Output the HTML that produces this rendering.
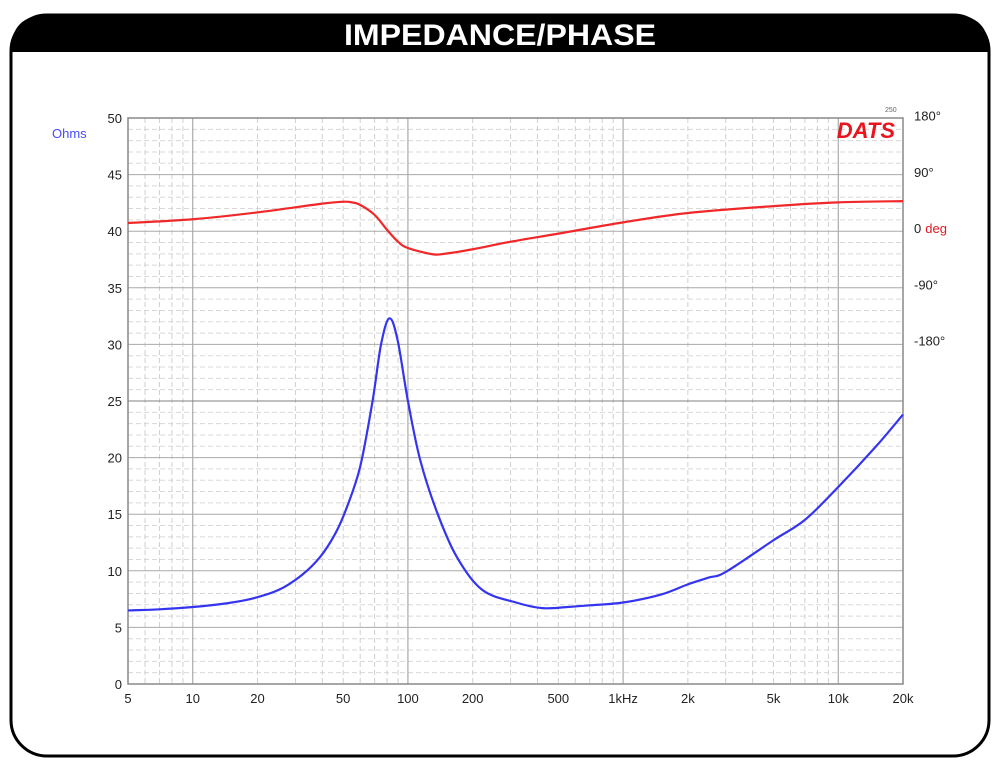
<!DOCTYPE html>
<html><head><meta charset="utf-8"><style>
body{margin:0;background:#fff;width:1000px;height:770px;overflow:hidden;font-family:"Liberation Sans",sans-serif}
</style></head><body>
<svg width="1000" height="770" viewBox="0 0 1000 770">
<rect x="11" y="15" width="978" height="741" rx="36" fill="#fff" stroke="#000" stroke-width="3"/>
<path d="M11,52 L11,51 Q11,15 47,15 L953,15 Q989,15 989,51 L989,52 Z" fill="#000"/>
<text x="500" y="45" text-anchor="middle" fill="#fff" font-size="30" font-weight="bold" textLength="312" lengthAdjust="spacingAndGlyphs">IMPEDANCE/PHASE</text>
<g id="grid"></g>
<g id="axes"></g>
<text x="52" y="138" fill="#4a4aff" font-size="13">Ohms</text>
<text x="895" y="138" text-anchor="end" fill="#e8141e" font-size="22" font-weight="bold" font-style="italic">DATS</text>
<text x="885" y="112" fill="#666" font-size="7">250</text>
<path id="phase" fill="none" stroke="#f0282a" stroke-width="2.2"/>
<path id="imp" fill="none" stroke="#3535f0" stroke-width="2.2"/>
</svg>
<script>
const freqTicks=[5,10,20,50,100,200,500,1000,2000,5000,10000,20000];
const freqLabels=["5","10","20","50","100","200","500","1kHz","2k","5k","10k","20k"];
const ohmTicks=[0,5,10,15,20,25,30,35,40,45,50];
const phaseTicks=[180,90,0,-90,-180];
const phaseLabels=["180°","90°","0","-90°","-180°"];
const impFreq=[5,7,10,14,18.5,25,32,39,46,52,60,68.5,75,82,89.5,100,114,137,169,222,318,421,550,700,1000,1500,2000,2500,3000,5000,7000,10000,15000,20000];
const impOhm=[6.5,6.6,6.8,7.1,7.5,8.3,9.6,11.2,13.3,15.6,19.2,25,30,32.3,30.4,25,19.8,15.1,11.2,8.3,7.2,6.7,6.8,6.95,7.2,7.9,8.8,9.4,9.9,12.7,14.5,17.4,21,23.8];
const phFreq=[5,10,20,40,50,55,60,70,80,90,100,130,150,200,300,500,1000,2000,5000,10000,20000];
const phDeg=[8,14,25,39,42,41,37,21,-3,-22,-32,-42,-41,-34,-22,-9,9,24,35,41,43];
const X0=128,X1=903,Y0=684,Y1=118,FMIN=5,FMAX=20000;
const x=f=>X0+(Math.log10(f/FMIN))/Math.log10(FMAX/FMIN)*(X1-X0);
const y=o=>Y0-(o/50)*(Y0-Y1);
const yp=d=>228-d*0.625;
const NS="http://www.w3.org/2000/svg";
function mk(t,a,p){const e=document.createElementNS(NS,t);for(const k in a)e.setAttribute(k,a[k]);p.appendChild(e);return e;}
const g=document.getElementById('grid'),ax=document.getElementById('axes');
for(let o=1;o<50;o++){if(o%5==0)continue;
 const l=mk('line',{x1:X0,x2:X1,y1:y(o),y2:y(o),stroke:'#d8d8d8','stroke-width':1,'stroke-dasharray':'5,3'},g);
 
 }
for(let d=1;d<=10000;d*=10){for(let m=1;m<10;m++){const f=d*m;if(f<=FMIN||f>=FMAX)continue;
 const major=(m==1);
 const l=mk('line',{x1:x(f),x2:x(f),y1:Y1,y2:Y0,stroke:major?'#9a9a9a':'#d0d0d0','stroke-width':1,'stroke-dasharray':major?'':'5,3'},g);
 
 }}
ohmTicks.forEach(o=>{
 const l=mk('line',{x1:X0,x2:X1,y1:y(o),y2:y(o),stroke:o==25?'#808080':'#aaaaaa','stroke-width':1},g);
 
 
 const t=mk('text',{x:122,y:y(o)+5,'text-anchor':'end','font-size':13,fill:'#222'},ax);t.textContent=o;
 
 });
freqTicks.forEach((f,i)=>{
 const t=mk('text',{x:x(f),y:Y0+19,'text-anchor':'middle','font-size':13,fill:'#222'},ax);t.textContent=freqLabels[i];
 
 });
phaseTicks.forEach((d,i)=>{
 const t=mk('text',{x:914,y:yp(d)+5,'font-size':13,fill:'#222'},ax);t.textContent=phaseLabels[i];
 
 
 if(d===0){const u=mk('tspan',{fill:'#e8141e',dx:4},t);u.textContent='deg';}});
const fr=mk('rect',{x:X0,y:Y1,width:X1-X0,height:Y0-Y1,fill:'none',stroke:'#888','stroke-width':1.5},ax);


function smooth(fs,vs,fy){let pts=fs.map((f,i)=>[x(f),fy(vs[i])]);let d='M'+pts[0][0]+','+pts[0][1];
 for(let i=0;i<pts.length-1;i++){const p0=pts[i-1]||pts[i],p1=pts[i],p2=pts[i+1],p3=pts[i+2]||p2;
  const c1=[p1[0]+(p2[0]-p0[0])/6,p1[1]+(p2[1]-p0[1])/6],c2=[p2[0]-(p3[0]-p1[0])/6,p2[1]-(p3[1]-p1[1])/6];
  d+=` C${c1[0]},${c1[1]} ${c2[0]},${c2[1]} ${p2[0]},${p2[1]}`;}return d;}
document.getElementById('imp').setAttribute('d',smooth(impFreq,impOhm,y));
document.getElementById('phase').setAttribute('d',smooth(phFreq,phDeg,yp));
</script>
</body></html>
